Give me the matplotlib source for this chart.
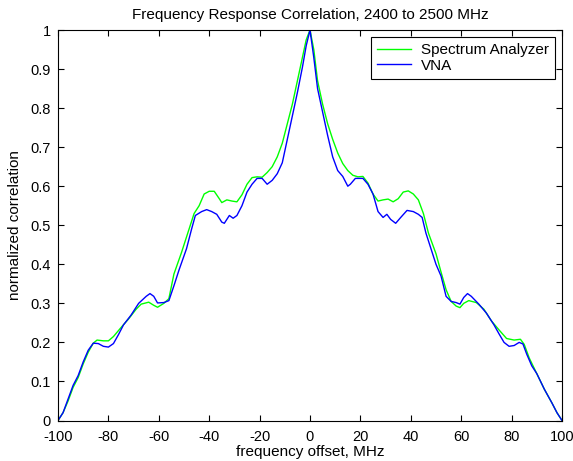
import numpy as np
import matplotlib
matplotlib.use("Agg")
import matplotlib.pyplot as plt

# spectrum analyzer correlation
sa_freq = [-100, -98, -96, -94, -92, -90, -88, -86, -84.5, -82, -80, -78, -75, -72, -69, -67,
           -64, -62, -60.5, -58, -56, -54, -51, -48, -46, -44, -42, -40, -38, -36, -35, -33,
           -31, -29, -27, -25, -23, -21, -19, -17, -15, -13, -11, -9, -7, -5, -3, -1.5, 0,
           1.5, 3, 5, 7, 9, 11, 13, 15, 17, 19, 21, 23, 25, 27, 29, 31, 33, 35, 37, 39, 41,
           43, 45, 47, 50, 52, 54, 56, 58, 59.5, 61, 63, 66, 69, 72, 75, 78, 81, 83.5, 85,
           87, 90, 93, 96, 98, 100]
sa_corr = [0.0, 0.02, 0.05, 0.085, 0.11, 0.145, 0.175, 0.198, 0.206, 0.204, 0.204, 0.215,
           0.238, 0.26, 0.285, 0.298, 0.303, 0.295, 0.29, 0.3, 0.312, 0.375, 0.43, 0.49,
           0.53, 0.55, 0.58, 0.587, 0.587, 0.568, 0.558, 0.565, 0.562, 0.56, 0.578, 0.605,
           0.622, 0.624, 0.623, 0.635, 0.65, 0.675, 0.71, 0.76, 0.81, 0.87, 0.93, 0.975, 1.0,
           0.95, 0.87, 0.81, 0.76, 0.72, 0.685, 0.658, 0.64, 0.628, 0.624, 0.625, 0.608,
           0.58, 0.562, 0.565, 0.567, 0.56, 0.568, 0.585, 0.588, 0.58, 0.565, 0.53, 0.48,
           0.427, 0.38, 0.335, 0.305, 0.293, 0.289, 0.3, 0.307, 0.302, 0.285, 0.255, 0.232,
           0.21, 0.206, 0.208, 0.195, 0.16, 0.12, 0.08, 0.045, 0.02, 0.0]

# VNA correlation
vna_freq = [-100, -98, -96, -94, -92, -90, -88, -86, -84, -82, -80, -78, -76, -74, -71, -68,
            -65, -63.5, -62, -60.5, -58, -56, -54, -52, -49, -47, -45.5, -43, -41, -39, -37,
            -35, -34, -32, -30.5, -29, -27, -25, -23, -21, -19, -17, -15, -13, -11, -9, -7,
            -5, -3, -1.5, 0, 1.5, 3, 5, 7, 9, 11, 13, 15, 16, 18, 21, 23, 25, 27, 29, 30.5,
            32, 34, 36, 38.5, 41, 43, 44.5, 46, 48, 50, 52, 54, 56, 58, 59.5, 61, 62.5, 64,
            67, 70, 73, 75, 77, 79, 81, 83, 84.5, 86, 88, 90, 93, 96, 98, 100]
vna_corr = [0.0, 0.02, 0.055, 0.09, 0.115, 0.15, 0.18, 0.198, 0.197, 0.19, 0.188, 0.197,
            0.22, 0.245, 0.27, 0.3, 0.318, 0.325, 0.318, 0.301, 0.302, 0.307, 0.345, 0.385,
            0.44, 0.49, 0.525, 0.535, 0.54, 0.535, 0.528, 0.508, 0.505, 0.525, 0.518, 0.525,
            0.55, 0.585, 0.605, 0.62, 0.62, 0.605, 0.615, 0.632, 0.66, 0.72, 0.78, 0.84,
            0.905, 0.96, 1.0, 0.93, 0.85, 0.79, 0.73, 0.675, 0.64, 0.625, 0.6, 0.605, 0.62,
            0.62, 0.605, 0.58, 0.535, 0.52, 0.528, 0.515, 0.505, 0.52, 0.538, 0.535, 0.528,
            0.52, 0.48, 0.44, 0.4, 0.37, 0.318, 0.305, 0.302, 0.298, 0.315, 0.325, 0.318,
            0.298, 0.275, 0.245, 0.222, 0.2, 0.19, 0.192, 0.2, 0.196, 0.17, 0.14, 0.12, 0.08,
            0.045, 0.02, 0.0]

x_ticks = np.arange(-100, 101, 20)
y_ticks = np.round(np.arange(0, 1.01, 0.1), 1)
y_labels = ['0', '0.1', '0.2', '0.3', '0.4', '0.5', '0.6', '0.7', '0.8', '0.9', '1']

plt.rcParams['font.family'] = ['Liberation Sans', 'DejaVu Sans']
plt.rcParams['font.size'] = 11
plt.rcParams['axes.unicode_minus'] = False

fig = plt.figure(figsize=(5.73, 4.61), dpi=100)
ax = fig.add_axes([58 / 573, 40.5 / 461, 504 / 573, 390.5 / 461])

ax.plot(sa_freq, sa_corr, color='#00ff00', lw=1.0, label='Spectrum Analyzer')
ax.plot(vna_freq, vna_corr, color='#0000ff', lw=1.0, label='VNA')

ax.set_xlim(-100, 100)
ax.set_ylim(0, 1)
ax.set_xticks(x_ticks)
ax.set_yticks(y_ticks)
ax.set_yticklabels(y_labels)
ax.tick_params(direction='in', top=True, right=True, length=4, width=0.8,
               labelsize=10.5)
ax.tick_params(axis='x', pad=6.5)
ax.tick_params(axis='y', pad=5)
for s in ax.spines.values():
    s.set_linewidth(0.8)

ax.set_xlabel('frequency offset, MHz', labelpad=1)
ax.set_ylabel('normalized correlation', labelpad=6)
ax.set_title('Frequency Response Correlation, 2400 to 2500 MHz', fontsize=11, pad=8)

leg = ax.legend(loc='upper right', fancybox=False, framealpha=1, edgecolor='black',
                borderaxespad=0.45, handlelength=2.2, handletextpad=0.65,
                borderpad=0.4, labelspacing=0.1)
leg.get_frame().set_linewidth(0.8)

fig.savefig('out.png', dpi=100, facecolor='white')
